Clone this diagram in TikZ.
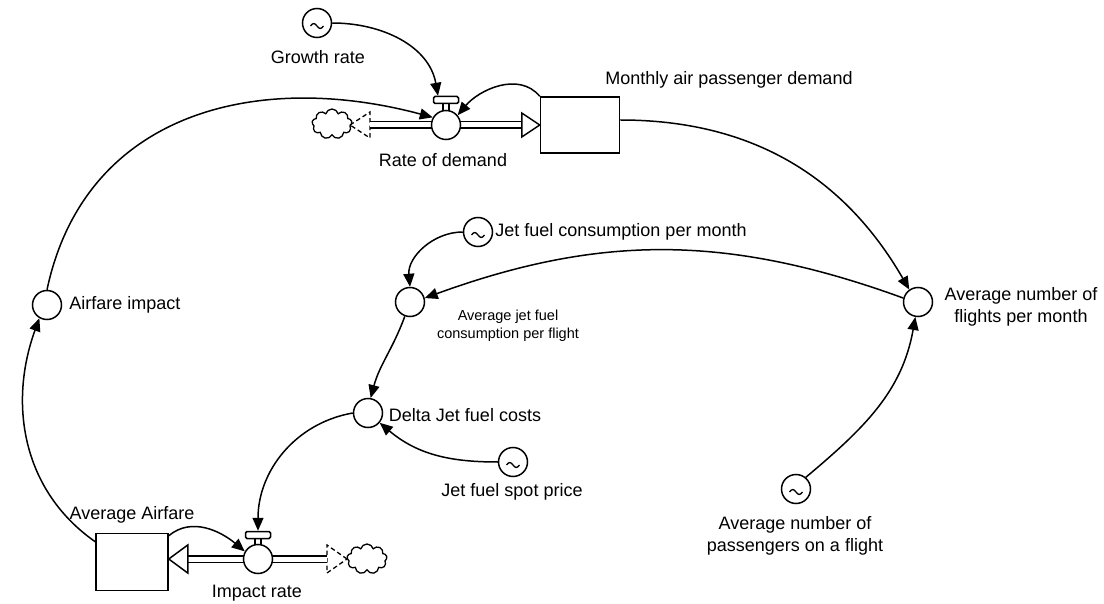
\documentclass[tikz,border=0pt]{standalone}
\usepackage{fontspec}
\setmainfont{Liberation Sans}
\usetikzlibrary{arrows.meta,shapes.symbols,calc}
\begin{document}
\begin{tikzpicture}[x=1pt,y=1pt,line width=1.5pt,
	every node/.style={font=\fontsize{18}{22}\selectfont,inner sep=0},
	aux/.style={circle,draw,fill=white,minimum size=29pt},
	const/.style={aux,path picture={\draw[line width=1.3pt]
		([xshift=-6.5pt,yshift=-3pt]path picture bounding box.center)
		sin +(3.25,2.5) cos +(3.25,-2.5) sin +(3.25,-2.5) cos +(3.25,2.5);}},
	stock/.style={rectangle,draw,fill=white,minimum height=56pt},
	valvecap/.style={rectangle,draw,fill=white,rounded corners=1.5pt,minimum width=25pt,minimum height=7pt},
	stem/.style={rectangle,draw,fill=white,minimum width=6pt,minimum height=8pt},
	sky/.style={cloud,draw,cloud puffs=9,minimum width=40pt,minimum height=30pt,line width=1.3pt},
	pipe/.style={double distance=5pt,line width=1.5pt},
	hollow/.style={draw,fill=white,line width=1.5pt},
	source/.style={dashed,dash pattern=on 4.5pt off 3pt,line width=1.3pt},
	link/.style={-{Triangle[length=13pt,width=11pt]},line width=1.5pt},
	two/.style={align=center},
	small/.style={font=\fontsize{14.5}{18}\selectfont,align=center}]
\useasboundingbox (0,0) rectangle (1104,-604);
% top flow
\node[sky] (c1) at (332,-124) {};
\coordinate (s1) at (370,-125);
\draw[source] ($(s1)+(-20,0)$) -- ($(s1)+(0,13)$) -- ($(s1)+(0,-13)$) -- cycle;
\node[stock,minimum width=79pt] (mad) at (580,-125) {};
\draw[pipe] (s1) -- ($(mad.west)+(-18,0)$);
\draw[hollow] ($(mad.west)+(-18,12)$) -- (mad.west) -- ($(mad.west)+(-18,-12)$) -- cycle;
\node[stem] (rdstem) at (446,-107) {};
\node[aux] (rd) at (446,-125) {};
\node[valvecap] (rdcap) at (446,-100) {};
% bottom flow
\node[stock,minimum width=72pt,minimum height=57pt] (aa) at (132,-562) {};
\coordinate (aatip) at (aa.east |- 0,-559);
\node[sky] (c2) at (367,-559) {};
\coordinate (s2) at (327,-559);
\draw[source] ($(s2)+(20,0)$) -- ($(s2)+(0,14)$) -- ($(s2)+(0,-14)$) -- cycle;
\draw[pipe] (s2) -- ($(aatip)+(19,0)$);
\draw[hollow] ($(aatip)+(19,14)$) -- (aatip) -- ($(aatip)+(19,-14)$) -- cycle;
\node[stem] (irstem) at (258,-542) {};
\node[aux] (ir) at (258,-559) {};
\node[valvecap] (ircap) at (258,-535) {};
% variables
\node[const] (gr) at (317,-23) {};
\node[aux] (ai) at (47,-305) {};
\node[aux] (fl) at (918,-302) {};
\node[const] (jfc) at (478,-232) {};
\node[aux] (ajf) at (410,-302) {};
\node[aux] (dj) at (368,-413) {};
\node[const] (jsp) at (513,-462) {};
\node[const] (anp) at (796,-489) {};
% labels
\node (grl) at (318,-57) {Growth rate};
\node (rdl) at (443,-160) {Rate of demand};
\node (madl) at (729,-80) {Monthly air passenger demand};
\node (ail) at (125,-305) {Airfare impact};
\node (jfcl) at (621,-232) {Jet fuel consumption per month};
\node[small] (ajfl) at (508,-326) {Average jet fuel\\consumption per flight};
\node[two] (fll) at (1021,-307) {Average number of\\flights per month};
\node (djl) at (465,-415) {Delta Jet fuel costs};
\node (jspl) at (512,-492) {Jet fuel spot price};
\node[two] (anpl) at (795,-536) {Average number of\\passengers on a flight};
\node (aal) at (132,-515) {Average Airfare};
\node (irl) at (257,-593) {Impact rate};
% links
\draw[link] (gr.east) to[out=0,in=100] ([xshift=-8pt]rdcap.north);
\draw[link] (ai.north) to[out=78,in=165,looseness=1.1] (rd.150);
\draw[link] (mad.north west) to[out=130,in=50] (rd.40);
\draw[link] ($(mad.east)+(0,5)$) to[out=0,in=120] (fl.125);
\draw[link] (fl.165) to[out=160,in=20] (ajf.15);
\draw[link] (jfc.west) to[out=180,in=95] (ajf.north);
\draw[link] (ajf.250) to[out=-110,in=75] (dj.80);
\draw[link] (jsp.west) to[out=180,in=-40] (dj.-40);
\draw[link] (dj.west) to[out=190,in=90] (ircap.north);
\draw[link] ($(aa.north east)+(0,-3)$) to[out=40,in=140] (ir.150);
\draw[link] ($(aa.north west)+(0,-9)$) to[out=145,in=-110] (ai.240);
\draw[link] (anp.50) to[out=40,in=-100] (fl.-100);
\end{tikzpicture}
\end{document}
